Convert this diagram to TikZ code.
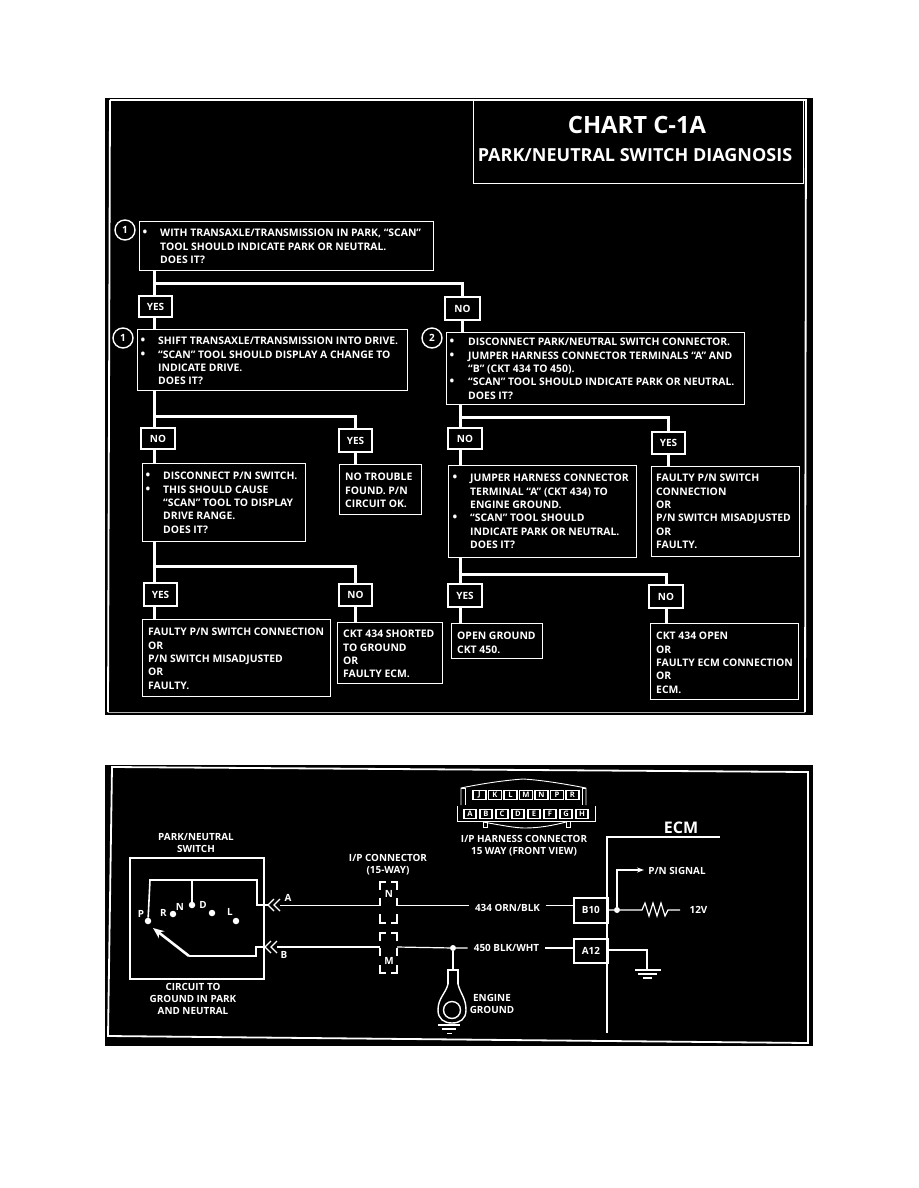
\documentclass[tikz,border=0pt]{standalone}
\usepackage{fontspec}
\setmainfont{Open Sans}
\usetikzlibrary{arrows.meta}
\tikzset{
  outline/.style={draw=white,line width=1.15pt},
  rulebox/.style={outline,fill=black,anchor=north west,inner sep=0pt},
  answer/.style={outline,fill=black,inner sep=0pt,text=white,font=\bfseries\fontsize{10}{11}\selectfont},
  flowtext/.style={text=white,anchor=north west,inner sep=0pt,align=left,font=\bfseries\fontsize{10.4}{13.4}\selectfont},
  wiretext/.style={text=white,inner sep=0pt,align=center,font=\bfseries\fontsize{9.9}{12}\selectfont},
  stepnum/.style={circle,draw=white,line width=1.4pt,fill=black,minimum size=20pt,inner sep=0pt,text=white,font=\bfseries\fontsize{10}{11}\selectfont},
  trunk/.style={draw=white,line width=3pt},
  wire/.style={draw=white,line width=1.2pt},
  edgeline/.style={draw=white,line width=1.8pt},
  pin/.style={circle,fill=white,inner sep=0pt,minimum size=6.5pt},
  cavity/.style={draw=white,line width=1.3pt,fill=black,inner sep=0pt,minimum width=12pt,minimum height=9.5pt,text=white,font=\bfseries\fontsize{7.6}{8}\selectfont},
}
% Box with its text block: name, x1, y1, x2, y2, text x, first-line top, text
\newcommand{\chartbox}[8]{%
  \node[rulebox,minimum width={#4-#2},minimum height={#5-#3}] (#1) at (#2,#3) {};
  \node[flowtext] (#1-text) at (#6,#7) {\rule{0pt}{7.4pt}#8};
}
% Yes/no tag centred between x1..x2 and y1..y2
\newcommand{\tag}[6]{%
  \node[answer,minimum width={#4-#2},minimum height={#5-#3}] (#1) at ({(#2+#4)/2},{(#3+#5)/2}) {#6};
}
\newcommand{\bul}[1]{\llap{{\fontsize{12.5}{12.5}\selectfont\textbullet}\hspace{#1pt}}}
\begin{document}
\begin{tikzpicture}[x=1pt,y=-1pt]
\useasboundingbox (0,0) rectangle (918,1188);
\fill[white] (0,0) rectangle (918,1188);

% --- Chart panel ---
\fill[black] (105,98) rectangle (813,715);
\draw[edgeline] (110,100) -- (806,100) -- (805,712);
\draw[edgeline] (110,100) -- (108,712);
\draw[draw=white!70!black,line width=1.2pt] (108,712.5) -- (805,712.5);

% Title block
\node[rulebox,minimum width=330pt,minimum height=83pt] (title) at (473,100) {};
\node[text=white,inner sep=0pt,font=\bfseries\fontsize{23.8}{26}\selectfont] (titleA) at (637,125) {CHART C-1A};
\node[text=white,inner sep=0pt,font=\bfseries\fontsize{18}{20}\selectfont] (titleB) at (635,155) {PARK/NEUTRAL SWITCH DIAGNOSIS};

% Boxes
\chartbox{q1}{139}{221}{433}{270}{160}{229}{\bul{13}WITH TRANSAXLE/TRANSMISSION IN PARK, “SCAN”\\TOOL SHOULD INDICATE PARK OR NEUTRAL.\\DOES IT?}
\chartbox{q2}{137}{329}{407}{390}{158}{337}{\bul{13}SHIFT TRANSAXLE/TRANSMISSION  INTO DRIVE.\\\bul{13}“SCAN” TOOL SHOULD DISPLAY A CHANGE TO\\INDICATE DRIVE.\\DOES IT?}
\chartbox{q3}{446}{332}{744}{404}{468}{338}{\bul{14}DISCONNECT PARK/NEUTRAL SWITCH CONNECTOR.\\\bul{14}JUMPER HARNESS CONNECTOR TERMINALS “A” AND\\“B” (CKT 434 TO 450).\\\bul{14}“SCAN” TOOL SHOULD INDICATE PARK OR NEUTRAL.\\DOES IT?}
\chartbox{q4}{142}{463}{305}{541}{163}{472}{\bul{13}DISCONNECT P/N SWITCH.\\\bul{13}THIS SHOULD CAUSE\\“SCAN” TOOL TO DISPLAY\\DRIVE RANGE.\\DOES IT?}
\chartbox{r1}{339}{464}{421}{514}{345}{473}{NO TROUBLE\\FOUND.  P/N\\CIRCUIT OK.}
\chartbox{q5}{448}{465}{636}{557}{470}{474}{\bul{13}JUMPER HARNESS CONNECTOR\\TERMINAL “A” (CKT 434) TO\\ENGINE GROUND.\\\bul{13}“SCAN” TOOL SHOULD\\INDICATE PARK OR NEUTRAL.\\DOES IT?}
\chartbox{r2}{651}{466}{799}{556}{656}{474}{FAULTY P/N SWITCH\\CONNECTION\\OR\\P/N SWITCH MISADJUSTED\\OR\\FAULTY.}
\chartbox{r3}{142}{619}{330}{696}{148}{628}{FAULTY P/N SWITCH CONNECTION\\OR\\P/N SWITCH MISADJUSTED\\OR\\FAULTY.}
\chartbox{r4}{337}{622}{442}{683}{343}{630}{CKT 434 SHORTED\\TO GROUND\\OR\\FAULTY ECM.}
\chartbox{r5}{451}{623}{542}{658}{457}{632}{OPEN GROUND\\CKT 450.}
\chartbox{r6}{650}{623}{798}{699}{656}{632}{CKT 434 OPEN\\OR\\FAULTY ECM CONNECTION\\OR\\ECM.}

% Step numbers
\node[stepnum] (n1) at (125,230) {1};
\node[stepnum] (n2) at (123,338) {1};
\node[stepnum] (n3) at (432,338) {2};

% Branch points
\coordinate (j1) at (154,283);
\coordinate (j2) at (154,416);
\coordinate (j3) at (154,566);
\coordinate (j4) at (460,417);
\coordinate (j5) at (460,574);

% Yes/no tags
\tag{y1}{139}{296}{172}{317}{YES}
\tag{n1a}{445}{297}{480}{320}{NO}
\tag{n2a}{141}{428}{175}{449}{NO}
\tag{y2}{339}{429}{372}{452}{YES}
\tag{n3a}{448}{428}{482}{449}{NO}
\tag{y3}{652}{432}{685}{454}{YES}
\tag{y4}{144}{583}{177}{606}{YES}
\tag{n4}{339}{584}{372}{606}{NO}
\tag{y5}{448}{584}{482}{607}{YES}
\tag{n5}{649}{585}{683}{608}{NO}

% Flow lines
\draw[trunk] (j1 |- q1.south) -- (j1 |- y1.north);
\draw[trunk] (j1) -| (n1a.north);
\draw[trunk] (j1 |- y1.south) -- (j1 |- q2.north);
\draw[trunk] (n1a.south) -- (n1a.south |- q3.north);
\draw[trunk] (j2 |- q2.south) -- (j2 |- n2a.north);
\draw[trunk] (j2) -| (y2.north);
\draw[trunk] (j2 |- n2a.south) -- (j2 |- q4.north);
\draw[trunk] (y2.south) -- (y2.south |- r1.north);
\draw[trunk] (j3 |- q4.south) -- (j3 |- y4.north);
\draw[trunk] (j3) -| (n4.north);
\draw[trunk] (j3 |- y4.south) -- (j3 |- r3.north);
\draw[trunk] (n4.south) -- (n4.south |- r4.north);
\draw[trunk] (j4 |- q3.south) -- (j4 |- n3a.north);
\draw[trunk] (j4) -| (y3.north);
\draw[trunk] (j4 |- n3a.south) -- (j4 |- q5.north);
\draw[trunk] (y3.south) -- (y3.south |- r2.north);
\draw[trunk] (j5 |- q5.south) -- (j5 |- y5.north);
\draw[trunk] (j5) -| (n5.north);
\draw[trunk] (j5 |- y5.south) -- (j5 |- r5.north);
\draw[trunk] (n5.south) -- (n5.south |- r6.north);

% --- Wiring panel ---
\fill[black] (105,765) rectangle (813,1046);
\draw[edgeline] (112,767) -- (808,772) -- (808,1043) -- (108,1036) -- cycle;

% Park/neutral switch
\node[rulebox,line width=1.8pt,minimum width=134pt,minimum height=121pt] (sw) at (129,857) {};
\node[wiretext] (swlabel) at (196,842.5) {PARK/NEUTRAL\\SWITCH};
\node[wiretext] (swnote) at (193,999) {CIRCUIT TO\\GROUND IN PARK\\AND NEUTRAL};
\node[pin] (pP) at (148,921) {};
\node[pin] (pR) at (173,914) {};
\node[pin] (pN) at (192,905) {};
\node[pin] (pD) at (212,913) {};
\node[pin] (pL) at (236,921) {};
\node[wiretext] (lP) at (141,914) {P};
\node[wiretext] (lR) at (163.5,913) {R};
\node[wiretext] (lN) at (180,907) {N};
\node[wiretext] (lD) at (203,905) {D};
\node[wiretext] (lL) at (230,912) {L};
\coordinate (swA) at (263,905);
\coordinate (swB) at (263,947);
\coordinate (pivot) at (189,956);
\draw[wire,line width=1.6pt] (pP) -- (150,880) -- (257,880) -- (257,905) -- (swA);
\draw[wire,line width=1.6pt] (192,880) -- (pN);
\draw[wire,line width=2pt] (swB) -- (256,947) -- (256,956) -- (pivot);
\draw[white,line width=2.6pt,-{Stealth[length=11pt,width=9pt]}] (pivot) -- (153,928);

% Terminal chevrons
\draw[wire] (274,899) -- (268,905) -- (274,911) (280,899) -- (274,905) -- (280,911);
\draw[wire] (271,941) -- (265,947) -- (271,953) (277,941) -- (271,947) -- (277,953);
\draw[wire,line width=2pt] (swA) -- (268,905);
\draw[wire,line width=2pt] (swB) -- (265,947);
\node[wiretext] (tagA) at (288,898) {A};
\node[wiretext] (tagB) at (284,955) {B};

% In-line connector
\node[wiretext] (iplabel) at (388,865) {I/P CONNECTOR\\(15-WAY)};
\node[wiretext] (cN) at (389,894) {N};
\node[wiretext] (cM) at (389,961) {M};
\draw[wire,line width=1.5pt]
  (380,890) -- (380,882) -- (386,882) (391,882) -- (397,882) -- (397,890)
  (380,898) -- (380,906) (397,898) -- (397,906)
  (380,914) -- (380,923) -- (386,923) (391,923) -- (397,923) -- (397,914)
  (380,941) -- (380,933) -- (386,933) (391,933) -- (397,933) -- (397,941)
  (380,948) -- (380,956) (397,948) -- (397,956)
  (380,965) -- (380,973) -- (386,973) (391,973) -- (397,973) -- (397,965);

% ECM
\node[rulebox,line width=1.8pt,minimum width=34pt,minimum height=25pt] (b10) at (573,897) {};
\node[wiretext] (b10t) at (b10.center) {B10};
\node[rulebox,line width=1.8pt,minimum width=34pt,minimum height=24pt] (a12) at (573,938) {};
\node[wiretext] (a12t) at (a12.center) {A12};
\coordinate (ecmTop) at (607,837);
\draw[wire,line width=1.6pt] (720,837) -- (ecmTop) -- (607,1033);
\node[text=white,inner sep=0pt,font=\bfseries\fontsize{16}{18}\selectfont] (ecm) at (681,828) {ECM};
\node[wiretext] (w1) at (507.5,908) {434 ORN/BLK};
\node[wiretext] (w2) at (506.5,948) {450 BLK/WHT};
\node[pin,minimum size=6pt] (split) at (453,948) {};
\draw[wire] (280,905.5) -- (380,905.5);
\draw[wire] (397,905.5) -- ([xshift=-6pt]w1.west |- 0,905.5);
\draw[wire] ([xshift=6pt]w1.east |- 0,905.5) -- (b10.west |- 0,905.5);
\draw[wire] (277,947) -- (380,947);
\draw[wire] (397,947) -- (split) -- ([xshift=-6pt]w2.west |- 0,948);
\draw[wire] ([xshift=6pt]w2.east |- 0,948) -- (a12.west |- 0,948);

% Engine ground lug
\draw[wire] (split) -- (453,970);
\draw[wire,line width=1.4pt] (448,984) -- (448,970) -- (458,970) -- (458,984);
\draw[wire,line width=1.4pt] (448,984) .. controls (446,993) and (438,998) .. (438,1010)
  .. controls (438,1019) and (444,1023) .. (452,1023) .. controls (460,1023) and (466,1019) .. (466,1010)
  .. controls (466,998) and (460,993) .. (458,984);
\draw[wire,line width=1.4pt] (452,1010) ellipse [x radius=8.5pt,y radius=8.5pt];
\draw[wire] (438,1025) -- (460,1025) (442,1029) -- (456,1029);
\draw[wire,line width=1pt] (447,1033) -- (452,1033);
\node[wiretext] (englabel) at (492,1004) {ENGINE\\GROUND};

% ECM internals
\node[pin,minimum size=6pt] (sig) at (617,910) {};
\draw[wire] (607,910) -- (sig) -- (642,910)
  -- (645,903) -- (649,916) -- (653,903) -- (657,916) -- (661,903) -- (665,916) -- (668,910) -- (680,910);
\node[wiretext] (v12) at (698.5,910) {12V};
\node[wiretext] (pnsig) at (677,871) {P/N SIGNAL};
\draw[wire,-{Stealth[length=7pt,width=5pt]}] (sig) -- (617,870) -- (644,870);
\draw[wire] (607,950) -- (647,950) -- (647,970);
\draw[wire] (635,970) -- (661,970) (638,974) -- (657,974) (643,978) -- (652,978);

% Harness connector, front view
\draw[wire,line width=0.9pt] (461,805) -- (461,788) .. controls (490,782) and (510,780) .. (523,779)
  .. controls (540,780) and (560,783) .. (586,788) -- (586,805);
\draw[wire,line width=0.9pt] (461,788) -- (465,788) -- (465,805) (586,788) -- (582,788) -- (582,805);
\draw[wire,line width=0.9pt] (457,806) -- (457,821) -- (595,821) -- (595,806);
\draw[wire,line width=0.9pt] (483,822) .. controls (500,825) and (515,828) .. (525,828)
  .. controls (540,828) and (555,825) .. (566,822);
\draw[wire,line width=0.9pt] (483,821) rectangle (487,827) (566,821) rectangle (570,827);
\foreach \lab [count=\i from 0] in {J,K,L,M,N,P,R}
  \node[cavity,minimum width=13pt] (top\lab) at ({479.5+\i*15.5},795) {\lab};
\foreach \lab [count=\i from 0] in {A,B,C,D,E,F,G,H}
  \node[cavity] (bot\lab) at ({470+\i*16},814) {\lab};
\node[wiretext] (hlabel) at (524,846) {I/P HARNESS CONNECTOR\\15 WAY (FRONT VIEW)};
\end{tikzpicture}
\end{document}
